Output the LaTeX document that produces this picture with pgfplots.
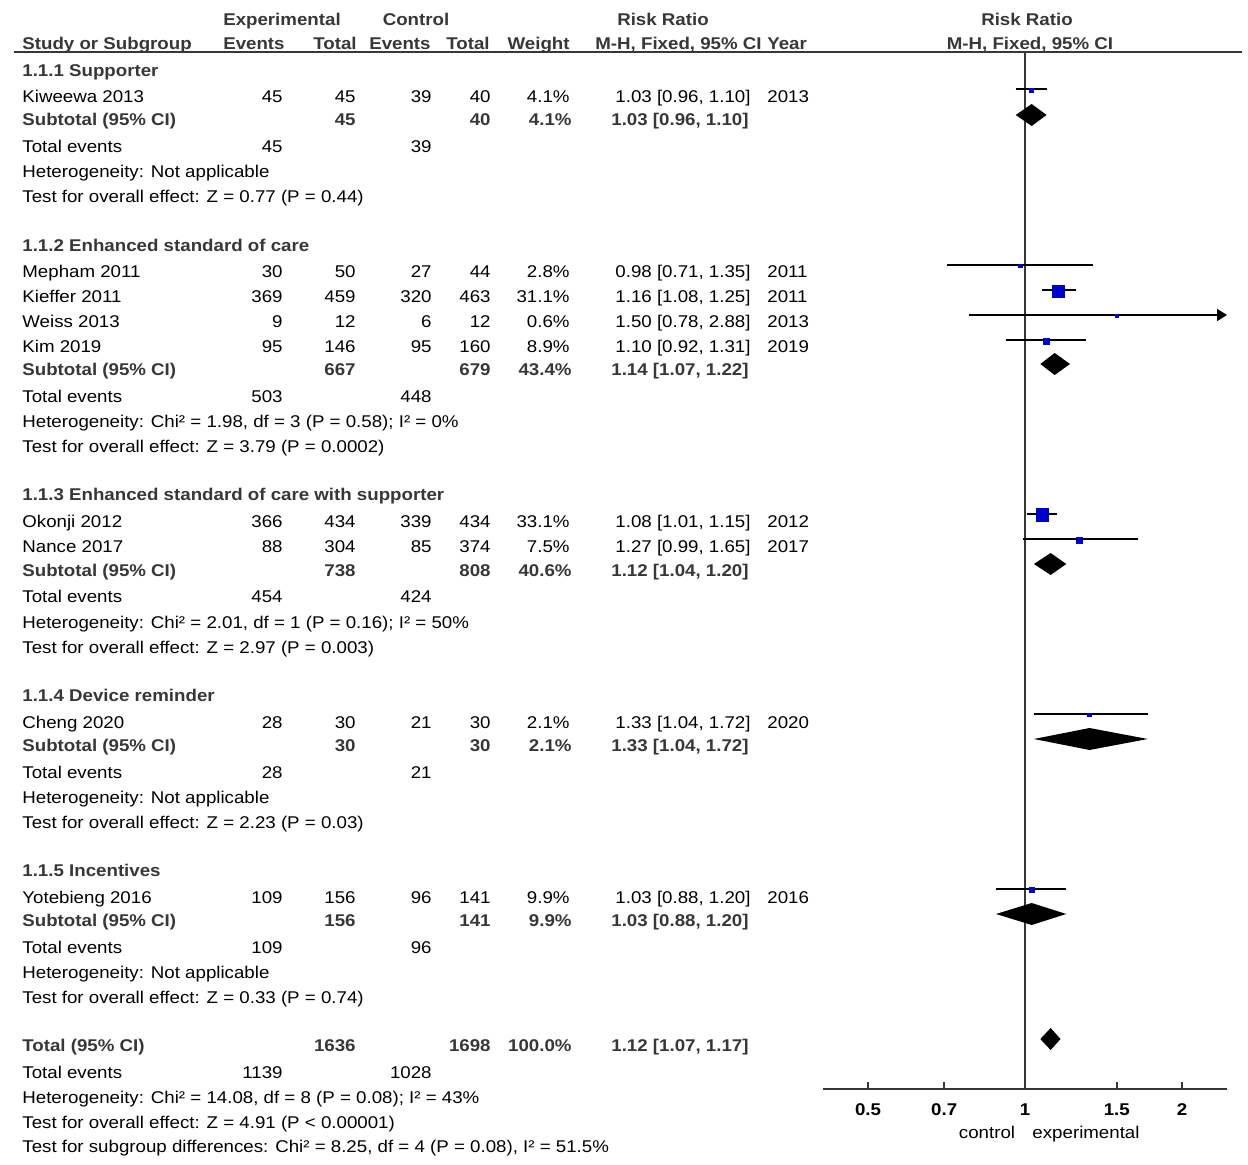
\documentclass[border=0pt]{standalone}
\usepackage{pgfplots}
\pgfplotsset{compat=1.18}
\usepackage{pgfplotstable}
\usepackage{fontspec}
\setmainfont{Liberation Sans}[FakeStretch=1.10]
\usetikzlibrary{arrows.meta}
\definecolor{sqblue}{RGB}{0,0,204}
\definecolor{bgray}{RGB}{55,55,55}
\definecolor{lgray}{RGB}{55,55,55}

% study estimates: y is the row position (pixels from top, negated), ms = half side of square (pt)
\pgfplotstableread{
name lo est hi y ms
Kiweewa 0.96 1.03 1.10 -90 1.0
Mepham 0.71 0.98 1.35 -266 0.9
Kieffer 1.08 1.16 1.25 -291 3.0
Weiss 0.78 1.50 2.88 -316 0.75
Kim 0.92 1.10 1.31 -341 1.5
Okonji 1.01 1.08 1.15 -515 3.1
Nance 0.99 1.27 1.65 -540 1.5
Cheng 1.04 1.33 1.72 -715 0.9
Yotebieng 0.88 1.03 1.20 -890 1.25
}\studies

\newcommand\bt{\bfseries\color{bgray}}
\newcommand\txL[3]{\node[anchor=base west,inner sep=0pt] at (axis cs:#1,-#2) {#3};}
\newcommand\txR[3]{\node[anchor=base east,inner sep=0pt] at (axis cs:#1,-#2) {#3};}
\newcommand\txC[3]{\node[anchor=base,inner sep=0pt] at (axis cs:#1,-#2) {#3};}
\newcommand\study[9]{\txL{22}{#1}{#2}\txR{283}{#1}{#3}\txR{356}{#1}{#4}\txR{432}{#1}{#5}\txR{491}{#1}{#6}\txR{570}{#1}{#7}\txR{751}{#1}{#8}\txL{767}{#1}{#9}}
\newcommand\subt[5]{\txL{22}{#1}{\bt Subtotal (95\% CI)}\txR{356}{#1}{\bt #2}\txR{491}{#1}{\bt #3}\txR{572}{#1}{\bt #4}\txR{749}{#1}{\bt #5}}
\newcommand\tev[3]{\txL{22}{#1}{Total events}\txR{283}{#1}{#2}\txR{432}{#1}{#3}}

\begin{document}
\fontsize{8.5pt}{10pt}\selectfont
\begin{tikzpicture}[font=\fontsize{8.5pt}{10pt}\selectfont]
% ---------- text table ----------
\begin{axis}[scale only axis, width=624pt, height=582pt, xmin=0, xmax=1248, ymin=-1164, ymax=0,
  hide axis, clip=false, at={(0,0)}, anchor=south west]
\addplot[line width=0.75pt, lgray] coordinates {(14,-52) (1242,-52)};
% headers
\txC{282}{26}{\bt Experimental}
\txC{416}{26}{\bt Control}
\txC{663}{26}{\bt Risk Ratio}
\txC{1027}{26}{\bt Risk Ratio}
\txL{22}{50}{\bt Study or Subgroup}
\txR{285}{50}{\bt Events}
\txR{357}{50}{\bt Total}
\txR{431}{50}{\bt Events}
\txR{490}{50}{\bt Total}
\txR{570}{50}{\bt Weight}
\txL{595}{50}{\bt M-H, Fixed, 95\% CI}
\txL{767}{50}{\bt Year}
\txC{1030}{50}{\bt M-H, Fixed, 95\% CI}
% group 1
\txL{22}{77}{\bt 1.1.1 Supporter}
\study{103}{Kiweewa 2013}{45}{45}{39}{40}{4.1\%}{1.03 [0.96, 1.10]}{2013}
\subt{126}{45}{40}{4.1\%}{1.03 [0.96, 1.10]}
\tev{153}{45}{39}
\txL{22}{178}{Heterogeneity: Not applicable}
\txL{22}{203}{Test for overall effect: Z = 0.77 (P = 0.44)}
% group 2
\txL{22}{252}{\bt 1.1.2 Enhanced standard of care}
\study{278}{Mepham 2011}{30}{50}{27}{44}{2.8\%}{0.98 [0.71, 1.35]}{2011}
\study{303}{Kieffer 2011}{369}{459}{320}{463}{31.1\%}{1.16 [1.08, 1.25]}{2011}
\study{328}{Weiss 2013}{9}{12}{6}{12}{0.6\%}{1.50 [0.78, 2.88]}{2013}
\study{353}{Kim 2019}{95}{146}{95}{160}{8.9\%}{1.10 [0.92, 1.31]}{2019}
\subt{376}{667}{679}{43.4\%}{1.14 [1.07, 1.22]}
\tev{403}{503}{448}
\txL{22}{428}{Heterogeneity: Chi² = 1.98, df = 3 (P = 0.58); I² = 0\%}
\txL{22}{453}{Test for overall effect: Z = 3.79 (P = 0.0002)}
% group 3
\txL{22}{501}{\bt 1.1.3 Enhanced standard of care with supporter}
\study{528}{Okonji 2012}{366}{434}{339}{434}{33.1\%}{1.08 [1.01, 1.15]}{2012}
\study{553}{Nance 2017}{88}{304}{85}{374}{7.5\%}{1.27 [0.99, 1.65]}{2017}
\subt{576}{738}{808}{40.6\%}{1.12 [1.04, 1.20]}
\tev{603}{454}{424}
\txL{22}{628}{Heterogeneity: Chi² = 2.01, df = 1 (P = 0.16); I² = 50\%}
\txL{22}{653}{Test for overall effect: Z = 2.97 (P = 0.003)}
% group 4
\txL{22}{701}{\bt 1.1.4 Device reminder}
\study{728}{Cheng 2020}{28}{30}{21}{30}{2.1\%}{1.33 [1.04, 1.72]}{2020}
\subt{751}{30}{30}{2.1\%}{1.33 [1.04, 1.72]}
\tev{778}{28}{21}
\txL{22}{803}{Heterogeneity: Not applicable}
\txL{22}{828}{Test for overall effect: Z = 2.23 (P = 0.03)}
% group 5
\txL{22}{876}{\bt 1.1.5 Incentives}
\study{903}{Yotebieng 2016}{109}{156}{96}{141}{9.9\%}{1.03 [0.88, 1.20]}{2016}
\subt{926}{156}{141}{9.9\%}{1.03 [0.88, 1.20]}
\tev{953}{109}{96}
\txL{22}{978}{Heterogeneity: Not applicable}
\txL{22}{1003}{Test for overall effect: Z = 0.33 (P = 0.74)}
% total
\txL{22}{1051}{\bt Total (95\% CI)}
\txR{356}{1051}{\bt 1636}
\txR{491}{1051}{\bt 1698}
\txR{572}{1051}{\bt 100.0\%}
\txR{749}{1051}{\bt 1.12 [1.07, 1.17]}
\tev{1078}{1139}{1028}
\txL{22}{1103}{Heterogeneity: Chi² = 14.08, df = 8 (P = 0.08); I² = 43\%}
\txL{22}{1128}{Test for overall effect: Z = 4.91 (P < 0.00001)}
\txL{22}{1152}{Test for subgroup differences: Chi² = 8.25, df = 4 (P = 0.08), I² = 51.5\%}
% axis captions
\txC{987}{1138}{control}
\txC{1086}{1138}{experimental}
\end{axis}
% ---------- forest plot ----------
\begin{axis}[scale only axis, at={(411.5pt,37.5pt)}, anchor=south west,
  width=202pt, height=518.5pt,
  xmode=log, xmin=0.4099, xmax=2.440, ymin=-1089, ymax=-52,
  axis x line=bottom, axis y line=none,
  x axis line style={-, line width=0.75pt, lgray},
  xtick={0.5,0.7,1,1.5,2}, xticklabels={0.5,0.7,1,1.5,2}, minor xtick={},
  tick align=inside, major tick length=3.5pt,
  tick style={line width=0.75pt, lgray},
  xticklabel style={font=\fontsize{8.5pt}{10pt}\selectfont\bfseries, inner sep=0pt, yshift=-7pt},
  clip=false]
\addplot[line width=0.75pt, lgray] coordinates {(1,-52) (1,-1089)};
% confidence intervals
\addplot[line width=0.85pt, black] coordinates {(0.96,-89) (1.10,-89)};
\addplot[line width=0.85pt, black] coordinates {(0.71,-265) (1.35,-265)};
\addplot[line width=0.85pt, black] coordinates {(1.08,-290) (1.25,-290)};
\addplot[line width=0.85pt, black, -{Triangle[length=5pt,width=6pt]}] coordinates {(0.78,-315) (2.44,-315)};
\addplot[line width=0.85pt, black] coordinates {(0.92,-340) (1.31,-340)};
\addplot[line width=0.85pt, black] coordinates {(1.01,-514) (1.15,-514)};
\addplot[line width=0.85pt, black] coordinates {(0.99,-539) (1.65,-539)};
\addplot[line width=0.85pt, black] coordinates {(1.04,-714) (1.72,-714)};
\addplot[line width=0.85pt, black] coordinates {(0.88,-889) (1.20,-889)};
% study squares
\addplot[scatter, only marks, mark=square*,
  scatter/use mapped color={draw=sqblue, fill=sqblue},
  visualization depends on={\thisrow{ms} \as \msz},
  scatter/@pre marker code/.append style={/tikz/mark size=\msz}]
  table[x=est, y=y] {\studies};
% pooled diamonds
\addplot[fill=black, draw=none] coordinates {(0.96,-115) (1.03,-104) (1.10,-115) (1.03,-126)} --cycle;
\addplot[fill=black, draw=none] coordinates {(1.07,-364) (1.14,-353) (1.22,-364) (1.14,-375)} --cycle;
\addplot[fill=black, draw=none] coordinates {(1.04,-564) (1.12,-553) (1.20,-564) (1.12,-575)} --cycle;
\addplot[fill=black, draw=none] coordinates {(1.04,-739) (1.33,-728) (1.72,-739) (1.33,-750)} --cycle;
\addplot[fill=black, draw=none] coordinates {(0.88,-914) (1.03,-903) (1.20,-914) (1.03,-925)} --cycle;
\addplot[fill=black, draw=none] coordinates {(1.07,-1039) (1.12,-1028) (1.17,-1039) (1.12,-1050)} --cycle;
\end{axis}
\pgfresetboundingbox
\path[use as bounding box] (0,0) rectangle (624pt,582pt);
\end{tikzpicture}
\end{document}
